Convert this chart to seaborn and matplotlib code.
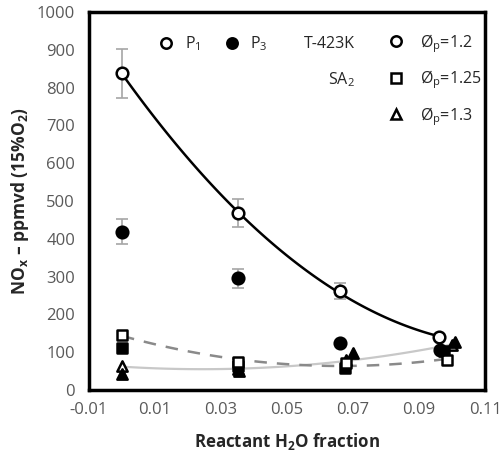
import numpy as np
import matplotlib
matplotlib.use("Agg")
import matplotlib.pyplot as plt
import seaborn as sns
from matplotlib.lines import Line2D

# phi_p = 1.2 (circles)
x_c_p1 = [0.0, 0.035, 0.066, 0.096]
y_c_p1 = [838, 467, 262, 140]
err_c_p1 = [65, 37, 22, 0]
x_c_p3 = [0.0, 0.035, 0.066, 0.0965]
y_c_p3 = [418, 295, 123, 105]
err_c_p3 = [33, 25, 0, 0]

# phi_p = 1.25 (squares)
x_s_p1 = [0.0, 0.035, 0.068, 0.0985]
y_s_p1 = [145, 75, 70, 80]
x_s_p3 = [0.0, 0.035, 0.0675, 0.0975]
y_s_p3 = [112, 62, 58, 103]

# phi_p = 1.3 (triangles)
x_t_p1 = [0.0, 0.035, 0.068, 0.1]
y_t_p1 = [62, 55, 78, 120]
x_t_p3 = [0.0, 0.0355, 0.070, 0.101]
y_t_p3 = [43, 50, 98, 127]

x_ticks = [-0.01, 0.01, 0.03, 0.05, 0.07, 0.09, 0.11]
x_ticklabels = ["-0.01", "0.01", "0.03", "0.05", "0.07", "0.09", "0.11"]
y_ticks = [0, 100, 200, 300, 400, 500, 600, 700, 800, 900, 1000]

sns.set_style("white")
plt.rcParams['font.family'] = ['Open Sans', 'DejaVu Sans']
plt.rcParams['mathtext.fontset'] = 'custom'
plt.rcParams['mathtext.rm'] = 'Open Sans'
plt.rcParams['mathtext.bf'] = 'Open Sans:bold'

fig = plt.figure(figsize=(5, 4.62), dpi=100)
ax = fig.add_axes([0.178, 0.156, 0.792, 0.818])


def fit_curve(x, y):
    # quadratic trend line like the spreadsheet one
    c = np.polyfit(x, y, 2)
    xx = np.linspace(min(x), max(x), 100)
    return xx, np.polyval(c, xx)


# trend lines
xx, yy = fit_curve(x_t_p1, y_t_p1)
sns.lineplot(x=xx, y=yy, ax=ax, color='#c8c8c8', linewidth=1.6, zorder=1)
xx, yy = fit_curve(x_s_p1, y_s_p1)
sns.lineplot(x=xx, y=yy, ax=ax, color='#8a8a8a', linewidth=1.8, zorder=1,
             linestyle=(0, (5, 4)))
xx, yy = fit_curve(x_c_p1, y_c_p1)
sns.lineplot(x=xx, y=yy, ax=ax, color='black', linewidth=1.8, zorder=2)

# error bars
ax.errorbar(x_c_p1, y_c_p1, yerr=err_c_p1, fmt='none', ecolor='#a6a6a6',
            elinewidth=1.2, capsize=4, capthick=1.2, zorder=2)
ax.errorbar(x_c_p3, y_c_p3, yerr=err_c_p3, fmt='none', ecolor='#a6a6a6',
            elinewidth=1.2, capsize=4, capthick=1.2, zorder=2)

# markers
mk = dict(ax=ax, s=55, linewidth=1.8, edgecolor='black', zorder=3)
sns.scatterplot(x=x_t_p1, y=y_t_p1, marker='^', color='white', **mk)
sns.scatterplot(x=x_t_p3, y=y_t_p3, marker='^', color='black', **mk)
sns.scatterplot(x=x_s_p3, y=y_s_p3, marker='s', color='black', **mk)
sns.scatterplot(x=x_s_p1, y=y_s_p1, marker='s', color='white', **mk)
sns.scatterplot(x=x_c_p3, y=y_c_p3, marker='o', color='black', s=70,
                linewidth=1.8, edgecolor='black', ax=ax, zorder=3)
sns.scatterplot(x=x_c_p1, y=y_c_p1, marker='o', color='white', s=70,
                linewidth=1.8, edgecolor='black', ax=ax, zorder=4)

ax.set_xlim(-0.01, 0.11)
ax.set_ylim(0, 1000)
ax.set_xticks(x_ticks)
ax.set_xticklabels(x_ticklabels)
ax.set_yticks(y_ticks)
ax.tick_params(axis='both', direction='in', length=4, width=2.5,
               labelsize=12, labelcolor='#595959')
ax.tick_params(axis='x', pad=9)
ax.tick_params(axis='y', pad=10)
for sp in ax.spines.values():
    sp.set_linewidth(2.5)
    sp.set_color('black')

ax.set_xlabel("Reactant H$_\\mathbf{2}$O fraction", fontsize=12.2,
              fontweight='bold', labelpad=9)
ax.set_ylabel("NO$_\\mathbf{x}$ – ppmvd (15%O$_\\mathbf{2}$)", fontsize=12.5,
              fontweight='bold', labelpad=4)

# legends
h_open = Line2D([], [], marker='o', ls='', mfc='white', mec='black', mew=1.8, ms=7.5)
h_fill = Line2D([], [], marker='o', ls='', mfc='black', mec='black', mew=1.8, ms=7.5)
leg1 = ax.legend([h_open, h_fill], ["P$_1$", "P$_3$"], ncol=2, loc='center left',
                 bbox_to_anchor=(0.177, 0.915), frameon=False, fontsize=11.5,
                 handlelength=0.9, handletextpad=0.7, columnspacing=1.5,
                 borderpad=0, borderaxespad=0)
ax.add_artist(leg1)

h_c = Line2D([], [], marker='o', ls='', mfc='white', mec='black', mew=1.8, ms=7.5)
h_s = Line2D([], [], marker='s', ls='', mfc='white', mec='black', mew=1.8, ms=7.5)
h_t = Line2D([], [], marker='^', ls='', mfc='white', mec='black', mew=1.8, ms=7.5)
ax.legend([h_c, h_s, h_t], ["Ø$_\\mathrm{p}$=1.2", "Ø$_\\mathrm{p}$=1.25", "Ø$_\\mathrm{p}$=1.3"],
          loc='upper left', bbox_to_anchor=(0.758, 0.948), frameon=False,
          fontsize=11.5, handlelength=0.9, handletextpad=1.0, labelspacing=0.85,
          borderpad=0, borderaxespad=0)

ax.text(0.672, 0.915, "T-423K", transform=ax.transAxes, ha='right', va='center',
        fontsize=11.5)
ax.text(0.672, 0.82, "SA$_2$", transform=ax.transAxes, ha='right', va='center',
        fontsize=11.5)

fig.savefig("out.png", dpi=100)
